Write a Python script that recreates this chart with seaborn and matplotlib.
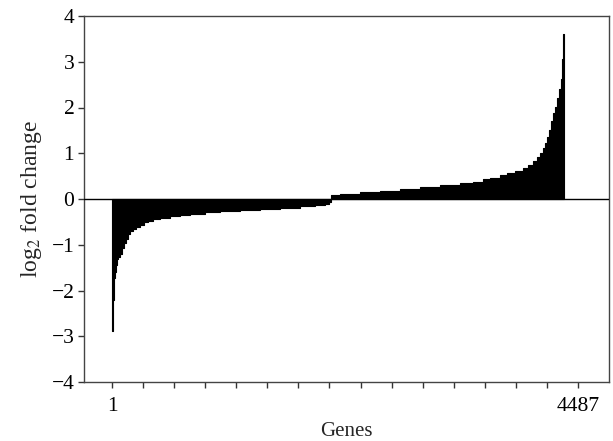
import numpy as np
import pandas as pd
import matplotlib
matplotlib.use("Agg")
import matplotlib.pyplot as plt
import seaborn as sns

# Sorted log2 fold changes, read off the picture as steps:
# each value holds from its start gene up to the next start gene.
gene_start = [1, 11, 21, 31, 41, 51, 61, 80, 100, 120, 140, 160, 180, 209, 239,
              279, 319, 358, 408, 477, 577, 676, 775, 924, 1073, 1271, 1470,
              1668, 1867, 2016, 2115, 2155,
              2175, 2264, 2463, 2661, 2859, 3058, 3256, 3455, 3584, 3683, 3753,
              3852, 3921, 4001, 4080, 4130, 4179, 4219, 4249, 4279, 4298, 4318,
              4338, 4358, 4378, 4398, 4417, 4437, 4457, 4467, 4477]
log2_fc = [-2.88, -2.20, -1.73, -1.59, -1.45, -1.32, -1.27, -1.20, -1.07, -0.97,
           -0.87, -0.77, -0.70, -0.65, -0.61, -0.56, -0.51, -0.47, -0.44, -0.41,
           -0.38, -0.35, -0.32, -0.29, -0.27, -0.25, -0.22, -0.20, -0.16, -0.13,
           -0.10, -0.07,
           0.09, 0.12, 0.15, 0.18, 0.22, 0.26, 0.30, 0.34, 0.38, 0.43, 0.46,
           0.52, 0.56, 0.62, 0.68, 0.74, 0.82, 0.92, 1.00, 1.12, 1.22, 1.35,
           1.50, 1.70, 1.88, 2.02, 2.20, 2.40, 2.62, 3.05, 3.60]
n_genes = 4487
tick_labels = ["1", "4487"]
y_ticks = [-4, -3, -2, -1, 0, 1, 2, 3, 4]

edges = [float(g) - 0.5 for g in gene_start] + [n_genes + 0.5]
centers = [(a + b) / 2 for a, b in zip(edges[:-1], edges[1:])]
df = pd.DataFrame({"gene": centers, "fc": log2_fc})

sns.set_style("white")
plt.rcParams["font.family"] = ["Liberation Serif", "DejaVu Serif"]
plt.rcParams["mathtext.fontset"] = "stix"
plt.rcParams["axes.unicode_minus"] = True

fig = plt.figure(figsize=(6.13, 4.41), dpi=100)
ax = fig.add_axes([84 / 613, 1 - 382 / 441, (609 - 84) / 613, (382 - 16) / 441])

sns.histplot(data=df, x="gene", weights="fc", bins=edges, element="step",
             fill=True, stat="count", color="black", edgecolor="black",
             linewidth=0.8, alpha=1, ax=ax)

ax.axhline(0, color="black", linewidth=1.0, zorder=5)

px = 9.925  # genes per pixel
ax.set_xlim(1 - 28 * px, 1 + 497 * px)
ax.set_ylim(-4, 4)

xt = [1 + 308.3 * k for k in range(16)]
ax.set_xticks(xt)
ax.set_xticklabels([tick_labels[0]] + [""] * 14 + [tick_labels[1]])
ax.set_yticks(y_ticks)
ax.set_yticklabels([str(v).replace("-", "\u2212") for v in y_ticks])

ax.tick_params(axis="both", which="both", direction="out", length=4, width=1,
               color="#333333", labelsize=15.5, labelcolor="black", pad=3,
               bottom=True, left=True)
ax.tick_params(axis="x", pad=7)

for s in ax.spines.values():
    s.set_visible(True)
    s.set_color("#444444")
    s.set_linewidth(1.0)

ax.set_xlabel("Genes", fontsize=15, labelpad=4)
ax.set_ylabel(r"log$_2$ fold change", fontsize=17, labelpad=5)
ax.grid(False)

fig.savefig("out.png", dpi=100)
